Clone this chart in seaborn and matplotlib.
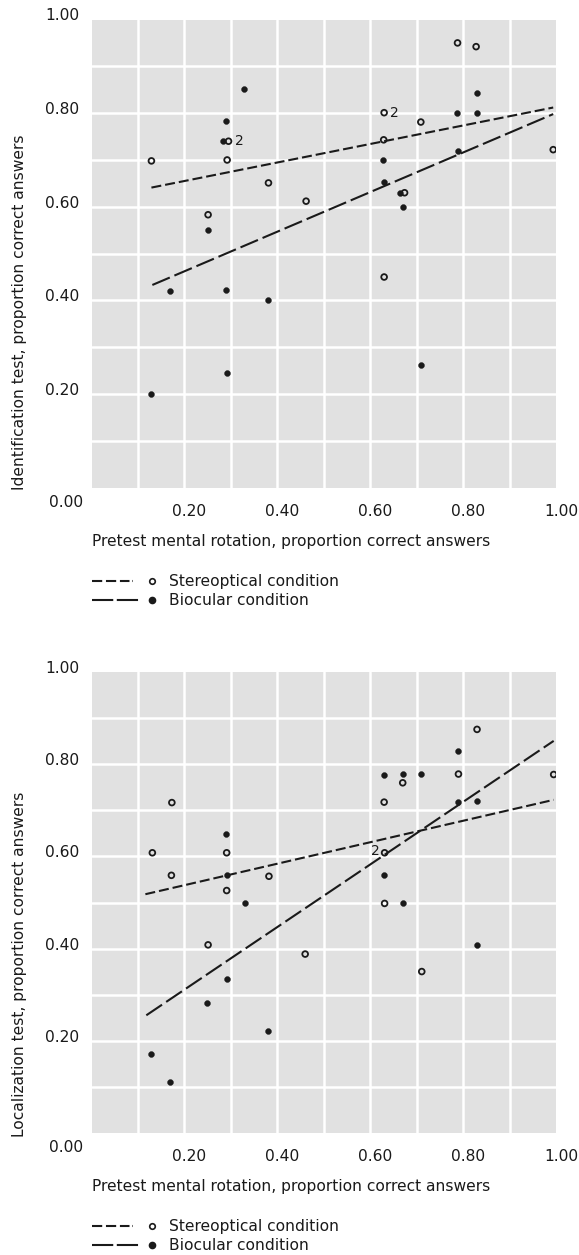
import numpy as np
import pandas as pd
import matplotlib
matplotlib.use("Agg")
import matplotlib.pyplot as plt
import seaborn as sns
from matplotlib.lines import Line2D
from matplotlib.transforms import offset_copy, ScaledTranslation

# ---- Identification test vs pretest mental rotation ----
ident_stereo_x = [0.129, 0.788, 0.828, 0.630, 0.295, 0.709, 0.292, 0.629, 0.994, 0.381, 0.462, 0.251, 0.674, 0.630]
ident_stereo_y = [0.698, 0.950, 0.942, 0.801, 0.740, 0.781, 0.700, 0.743, 0.722, 0.651, 0.612, 0.583, 0.630, 0.450]
ident_stereo_n = [1, 1, 1, 2, 2, 1, 1, 1, 1, 1, 1, 1, 1, 1]
ident_bio_x = [0.328, 0.829, 0.786, 0.829, 0.289, 0.284, 0.789, 0.627, 0.630, 0.665, 0.671, 0.251, 0.169, 0.289, 0.381, 0.709, 0.291, 0.128]
ident_bio_y = [0.852, 0.842, 0.801, 0.801, 0.783, 0.740, 0.720, 0.700, 0.652, 0.630, 0.600, 0.551, 0.421, 0.422, 0.400, 0.262, 0.244, 0.200]
ident_fit_x_stereo = [0.129, 0.994]
ident_fit_y_stereo = [0.641, 0.812]
ident_fit_x_bio = [0.131, 0.994]
ident_fit_y_bio = [0.433, 0.798]

# ---- Localization test vs pretest mental rotation ----
loc_stereo_x = [0.830, 0.790, 0.995, 0.670, 0.173, 0.630, 0.131, 0.291, 0.631, 0.172, 0.382, 0.291, 0.631, 0.251, 0.460, 0.711]
loc_stereo_y = [0.876, 0.779, 0.778, 0.760, 0.717, 0.718, 0.608, 0.608, 0.608, 0.559, 0.557, 0.526, 0.498, 0.408, 0.388, 0.350]
loc_stereo_n = [1, 1, 1, 1, 1, 1, 1, 1, 2, 1, 1, 1, 1, 1, 1, 1]
loc_bio_x = [0.790, 0.630, 0.671, 0.709, 0.790, 0.830, 0.290, 0.291, 0.630, 0.331, 0.671, 0.829, 0.291, 0.248, 0.381, 0.128, 0.169]
loc_bio_y = [0.828, 0.778, 0.780, 0.780, 0.719, 0.720, 0.649, 0.559, 0.559, 0.500, 0.500, 0.408, 0.333, 0.282, 0.220, 0.171, 0.111]
loc_fit_x_stereo = [0.116, 0.995]
loc_fit_y_stereo = [0.518, 0.723]
loc_fit_x_bio = [0.118, 0.995]
loc_fit_y_bio = [0.255, 0.851]

tick_values = [0.2, 0.4, 0.6, 0.8, 1.0]
tick_labels = ["0.20", "0.40", "0.60", "0.80", "1.00"]
x_title = "Pretest mental rotation, proportion correct answers"
ident_title = "Identification test, proportion correct answers"
loc_title = "Localization test, proportion correct answers"
legend_labels = ["Stereoptical condition", "Biocular condition"]

sns.set_style("darkgrid", {"axes.facecolor": "#e1e1e1", "grid.color": "white"})
plt.rcParams["font.family"] = ["DejaVu Sans"]

INK = "#1a1a1a"
FS = 11.2
LW = 1.5
SHORT = (0, (4.8, 1.9))
LONG = (0, (9.1, 2.4))
SHORT_KEY = (0, (4.9, 1.8, 4.9, 1.8, 4.6, 1.4, 1.0, 4.0))
LONG_KEY = (0, (10.2, 1.7))

fig = plt.figure(figsize=(5.79, 12.55), dpi=100)
W, H = 579, 1255


def px_axes(left, top, right, bottom):
    return fig.add_axes([left / W, (H - bottom) / H, (right - left) / W, (bottom - top) / H])


ax_top = px_axes(91.5, 19.5, 556, 487.7)
ax_bot = px_axes(91.5, 672.3, 556, 1132.7)


def panel(ax, sx, sy, sn, bx, by, fxs, fys, fxb, fyb, ytitle, ylab_start, dup_offset):
    ax.set_xlim(0, 1)
    ax.set_ylim(0, 1)
    for spine in ax.spines.values():
        spine.set_visible(False)

    # regression lines
    sns.lineplot(x=fxs, y=fys, ax=ax, color=INK, lw=LW, linestyle=SHORT, estimator=None)
    sns.lineplot(x=fxb, y=fyb, ax=ax, color=INK, lw=LW, linestyle=LONG, estimator=None)

    # observations
    sns.scatterplot(x=sx, y=sy, ax=ax, marker="o", s=17, facecolors="none",
                    edgecolor=INK, linewidth=1.3, zorder=4)
    sns.scatterplot(x=bx, y=by, ax=ax, marker="o", s=18, color=INK,
                    edgecolor=INK, linewidth=0.3, zorder=4)

    # multiplicity labels
    for x, y, n in zip(sx, sy, sn):
        if n > 1:
            ax.annotate(str(n), (x, y), xytext=dup_offset, textcoords="offset pixels",
                        ha="center", va="center", fontsize=10, color=INK)

    # grid every 0.1, labels every 0.2
    minor = np.arange(1, 10) / 10
    ax.xaxis.remove_overlapping_locs = False
    ax.yaxis.remove_overlapping_locs = False
    ax.set_xticks(minor, minor=True)
    ax.set_yticks(minor, minor=True)
    ax.grid(False, which="major")
    ax.grid(True, which="minor", color="white", lw=1.8)
    ax.set_xticks(tick_values)
    ax.set_xticklabels(tick_labels, fontsize=FS, color=INK)
    ax.set_yticks(tick_values)
    ax.set_yticklabels(tick_labels, fontsize=FS, color=INK)
    ax.tick_params(which="both", length=0)
    ax.tick_params(axis="x", pad=12)
    ax.tick_params(axis="y", pad=9)
    for lab in ax.get_xticklabels():
        lab.set_transform(lab.get_transform() + ScaledTranslation(5 / 100, 0, fig.dpi_scale_trans))
    for lab in ax.get_yticklabels():
        lab.set_transform(lab.get_transform() + ScaledTranslation(0, 5 / 100, fig.dpi_scale_trans))

    ax.text(-0.019, 0, "0.00", transform=offset_copy(ax.transAxes, fig=fig, y=-15, units="dots"),
            ha="right", va="center", fontsize=FS, color=INK)

    ax.set_xlabel(x_title, fontsize=FS, color=INK, loc="left")
    ax.xaxis.label.set_va("baseline")
    ax.xaxis.set_label_coords(0, -58 / ax.bbox.height)

    ax.set_ylabel(ytitle, fontsize=FS, color=INK, loc="bottom")
    ax.yaxis.label.set_va("baseline")
    ax.yaxis.set_label_coords(-67.5 / ax.bbox.width, ylab_start)

    # key below the panel
    rows = [(93, SHORT_KEY, "none", 0.090), (112.5, LONG_KEY, INK, 0.1044)]
    for (dy, ls, fc, x_end), text in zip(rows, legend_labels):
        tr = offset_copy(ax.transAxes, fig=fig, y=-dy, units="dots")
        ax.add_artist(Line2D([0.0004, x_end], [0, 0], transform=tr, color=INK, lw=LW,
                             linestyle=ls, clip_on=False, dash_capstyle="butt"))
        ax.add_artist(Line2D([0.1296], [0], transform=tr, marker="o", ms=4.0 if fc == "none" else 4.3,
                             mfc=fc, mec=INK, mew=1.2, linestyle="none", clip_on=False))
        tr_txt = offset_copy(ax.transAxes, fig=fig, y=-dy - 5, units="dots")
        ax.text(0.1679, 0, text, transform=tr_txt, ha="left", va="baseline",
                fontsize=FS, color=INK)


panel(ax_top, ident_stereo_x, ident_stereo_y, ident_stereo_n, ident_bio_x, ident_bio_y,
      ident_fit_x_stereo, ident_fit_y_stereo, ident_fit_x_bio, ident_fit_y_bio,
      ident_title, -0.005, (10.5, 0))
panel(ax_bot, loc_stereo_x, loc_stereo_y, loc_stereo_n, loc_bio_x, loc_bio_y,
      loc_fit_x_stereo, loc_fit_y_stereo, loc_fit_x_bio, loc_fit_y_bio,
      loc_title, -0.0087, (-9.7, 2))

fig.savefig("out.png", dpi=100, facecolor="white")
